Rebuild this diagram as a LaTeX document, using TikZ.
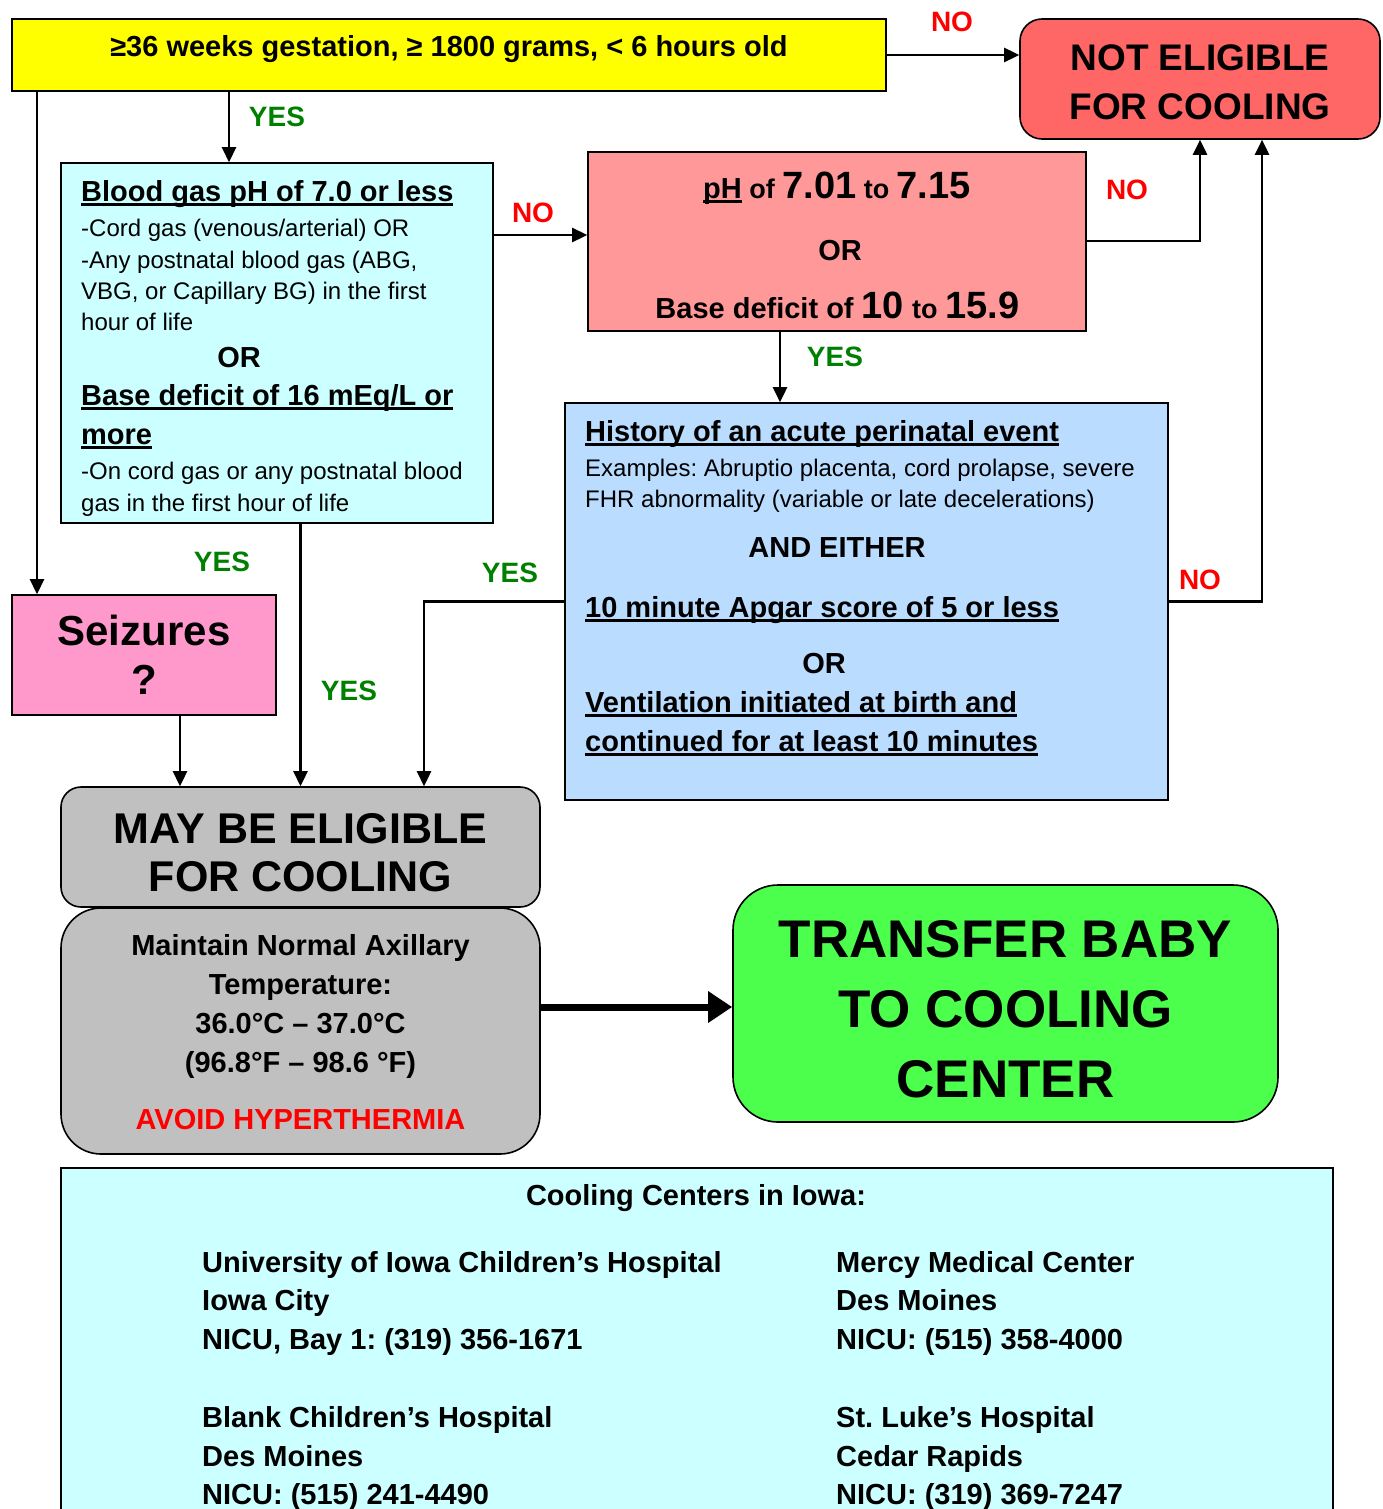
\documentclass[tikz,border=0pt]{standalone}
\usepackage{fontspec}
\setmainfont{Liberation Sans}
\usetikzlibrary{arrows.meta}
\frenchspacing

\definecolor{startyellow}{HTML}{FFFF00}
\definecolor{noeligred}{HTML}{FF6666}
\definecolor{phpink}{HTML}{FF9999}
\definecolor{gascyan}{HTML}{CCFFFF}
\definecolor{histblue}{HTML}{B9DCFF}
\definecolor{seizpink}{HTML}{FF99CC}
\definecolor{maygray}{HTML}{C0C0C0}
\definecolor{transgreen}{HTML}{4DFF4D}
\definecolor{yesgreen}{HTML}{008000}

\newcommand{\fsz}[2]{\fontsize{#1}{#2}\selectfont}
\newcommand{\ulbox}[1]{\setbox0=\hbox{#1}\rlap{\rule[-4.5pt]{\wd0}{2.5pt}}\box0}

\tikzset{
  box/.style={draw, line width=1.6pt, inner sep=0pt},
  conn/.style={line width=2.6pt, -{Triangle[length=15pt,width=14pt]}},
  heavy/.style={line width=7pt, -{Triangle[length=24pt,width=30pt]}},
  yes/.style={text=yesgreen, inner sep=0pt, font=\bfseries\fsz{28}{30}},
  no/.style={text=red, inner sep=0pt, font=\bfseries\fsz{28}{30}},
  hd/.style={anchor=base west, inner sep=0pt, font=\bfseries\fsz{29}{34}},
  txt/.style={anchor=base west, inner sep=0pt, font=\fsz{24}{28}},
  mid/.style={inner sep=0pt, align=center},
}

\begin{document}
\begin{tikzpicture}[x=1pt, y=-1pt]
  \useasboundingbox (0,0) rectangle (1383,1509);
  \clip (0,0) rectangle (1383,1509);

  %Define boxes
  \node[box, fill=startyellow, minimum width=874pt, minimum height=72pt] (start) at (449,55) {};
  \node[hd, anchor=base] (startt) at (449,57) {≥36 weeks gestation, ≥ 1800 grams, < 6 hours old};

  \node[box, rounded corners=22pt, fill=noeligred, minimum width=360pt, minimum height=120pt] (noelig) at (1200,79) {};
  \node[mid, font=\bfseries\fsz{37}{49}] (noeligt) at (1200,82) {NOT ELIGIBLE\\FOR COOLING};

  \node[box, fill=gascyan, minimum width=432pt, minimum height=360pt] (bgas) at (277,343) {};
  \node[box, fill=phpink, minimum width=498pt, minimum height=179pt] (ph) at (837,241.5) {};
  \node[box, fill=histblue, minimum width=603pt, minimum height=397pt] (hist) at (866.5,601.5) {};

  \node[box, fill=seizpink, minimum width=264pt, minimum height=120pt,
        align=center, font=\bfseries\fsz{42}{49}] (seiz) at (144,655) {Seizures\\?};

  \node[box, rounded corners=20pt, fill=maygray, minimum width=479pt, minimum height=120pt] (may) at (300.5,847) {};
  \node[mid, font=\bfseries\fsz{43}{48}] (mayt) at (300.5,853) {MAY BE ELIGIBLE\\FOR COOLING};

  \node[box, rounded corners=40pt, fill=maygray, minimum width=479pt, minimum height=246pt] (maint) at (300.5,1031) {};
  \node[mid, font=\bfseries\fsz{29}{39}] (maintt) at (300.5,1032)
        {Maintain Normal Axillary\\Temperature:\\36.0°C – 37.0°C\\(96.8°F – 98.6 °F)\\[18pt]\textcolor{red}{AVOID HYPERTHERMIA}};

  \node[box, rounded corners=45pt, fill=transgreen, minimum width=545pt, minimum height=237pt] (transfer) at (1005.5,1003.5) {};
  \node[mid, font=\bfseries\fsz{53}{70}] (transfert) at (1005.5,1009) {TRANSFER BABY\\TO COOLING\\CENTER};

  \node[box, fill=gascyan, minimum width=1272pt, minimum height=380pt, anchor=north] (centers) at (697,1167) {};

  % Blood gas box
  \node[hd] (bgh1) at (81,201) {\ulbox{Blood gas pH of 7.0 or less}};
  \foreach \y/\t [count=\i] in {236/{-Cord gas (venous/arterial) OR}, 268/{-Any postnatal blood gas (ABG,},
      299/{VBG, or Capillary BG) in the first}, 330/{hour of life}}
    \node[txt] (bga\i) at (81,\y) {\t};
  \node[hd, anchor=base] (bgor) at (239,367) {OR};
  \node[hd] (bgh2) at (81,405) {\ulbox{Base deficit of 16 mEq/L or}};
  \node[hd] (bgh3) at (81,444) {\ulbox{more}};
  \foreach \y/\t [count=\i] in {479/{-On cord gas or any postnatal blood}, 511/{gas in the first hour of life}}
    \node[txt] (bgb\i) at (81,\y) {\t};

  % pH box
  \node[anchor=base, inner sep=0pt, font=\bfseries\fsz{27}{30}] (ph1) at (837,198)
    {{\fsz{29}{34}\ulbox{pH}} of {\fsz{38}{40}7.01} to {\fsz{38}{40}7.15}};
  \node[hd, anchor=base] (ph2) at (840,260) {OR};
  \node[anchor=base, inner sep=0pt, font=\bfseries\fsz{29}{34}] (ph3) at (837.5,318)
    {Base deficit of {\fsz{38}{40}10} {\fsz{27}{30}to} {\fsz{38}{40}15.9}};

  % History box
  \node[hd] (hh1) at (585,441) {\ulbox{History of an acute perinatal event}};
  \node[txt] (hx1) at (585,476) {Examples: Abruptio placenta, cord prolapse, severe};
  \node[txt] (hx2) at (585,507) {FHR abnormality (variable or late decelerations)};
  \node[hd, anchor=base] (hand) at (837,557) {AND EITHER};
  \node[hd] (hh2) at (585,617) {\ulbox{10 minute Apgar score of 5 or less}};
  \node[hd, anchor=base] (hor) at (824,673) {OR};
  \node[hd] (hh3) at (585,712) {\ulbox{Ventilation initiated at birth and}};
  \node[hd] (hh4) at (585,751) {\ulbox{continued for at least 10 minutes}};

  % Cooling centers
  \node[hd, anchor=base] (ctitle) at (696,1205) {Cooling Centers in Iowa:};
  \foreach \y/\t [count=\i] in {1272/{University of Iowa Children’s Hospital}, 1310/{Iowa City},
      1349/{NICU, Bay 1: (319) 356-1671}, 1427/{Blank Children’s Hospital}, 1466/{Des Moines},
      1504/{NICU: (515) 241-4490}}
    \node[hd] (cl\i) at (202,\y) {\t};
  \foreach \y/\t [count=\i] in {1272/{Mercy Medical Center}, 1310/{Des Moines},
      1349/{NICU: (515) 358-4000}, 1427/{St. Luke’s Hospital}, 1466/{Cedar Rapids},
      1504/{NICU: (319) 369-7247}}
    \node[hd] (cr\i) at (836,\y) {\t};

  % Labels
  \node[no] (no1) at (952,22) {NO};
  \node[yes] (yes1) at (277,117) {YES};
  \node[no] (no2) at (533,213) {NO};
  \node[no] (no3) at (1127,190) {NO};
  \node[yes] (yes2) at (835,357) {YES};
  \node[no] (no4) at (1200,580) {NO};
  \node[yes] (yes3) at (510,573) {YES};
  \node[yes] (yes4) at (222,562) {YES};
  \node[yes] (yes5) at (349,691) {YES};

  % Connect the boxes
  \draw[conn] (start.east) -- (start.east -| noelig.west);
  \draw[conn] (229,0 |- start.south) -- (229,0 |- bgas.north);
  \draw[conn] (37,0 |- start.south) -- (37,0 |- seiz.north);
  \draw[conn] (bgas.east |- 0,235) -- (ph.west |- 0,235);
  \draw[conn] (ph.east |- 0,241) -| (noelig.south);
  \draw[conn] (780,0 |- ph.south) -- (780,0 |- hist.north);
  \draw[conn] (hist.east) -| ([xshift=62pt]noelig.south);
  \draw[conn] (hist.west) -| (424,0 |- may.north);
  \draw[conn] (may.north |- bgas.south) -- (may.north);
  \draw[conn] (180,0 |- seiz.south) -- (180,0 |- may.north);
  \draw[heavy] (maint.east |- 0,1007) -- (transfer.west |- 0,1007);
\end{tikzpicture}
\end{document}
